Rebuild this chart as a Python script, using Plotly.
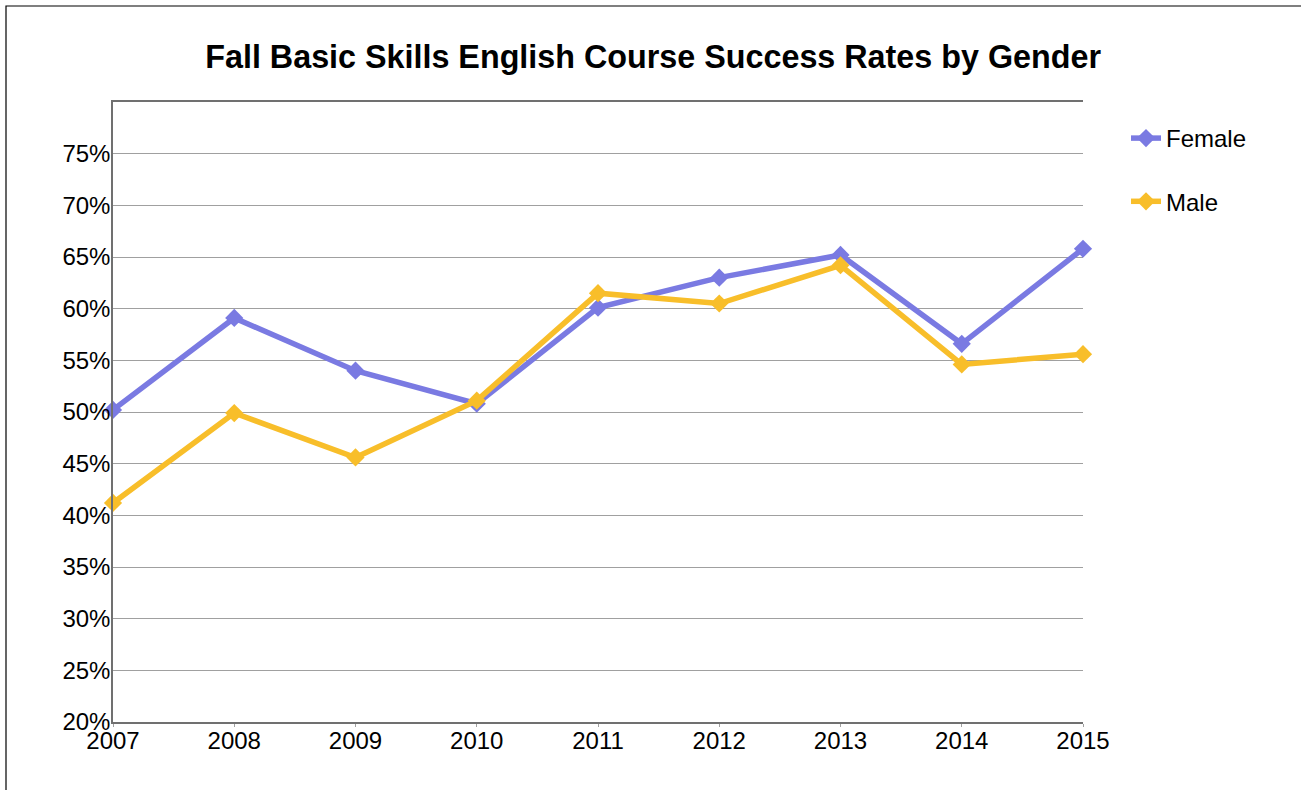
import plotly.graph_objects as go

years = [2007, 2008, 2009, 2010, 2011, 2012, 2013, 2014, 2015]
female = [50.2, 59.1, 54.0, 50.8, 60.1, 63.0, 65.2, 56.6, 65.8]
male = [41.2, 49.9, 45.6, 51.1, 61.5, 60.5, 64.2, 54.6, 55.6]

y_ticks = list(range(20, 85, 5))
y_labels = [f"{v}%" for v in y_ticks[:-1]] + [""]

FEMALE_COLOR = "#7a7ae2"
MALE_COLOR = "#f8be2a"
FONT = "Liberation Sans, Arial, sans-serif"

fig = go.Figure()
for name, vals, color, grp in [("Female", female, FEMALE_COLOR, "f"),
                               ("Male", male, MALE_COLOR, "m")]:
    fig.add_trace(go.Scatter(
        x=years, y=vals, name=name, mode="lines+markers",
        line=dict(color=color, width=5.5),
        marker=dict(symbol="diamond", size=14, color=color),
        cliponaxis=False, legendgroup=grp,
    ))

# plot area in pixels: left 113, right 1083, top 102, bottom 722
L, R, T, B = 113, 1083, 102, 722
W, H = 1301, 790
pw, ph = R - L, B - T


def px_x(p):
    return (p - L) / pw


def px_y(p):
    return (B - p) / ph


fig.update_layout(
    width=W, height=H,
    margin=dict(l=L, r=W - R, t=T, b=H - B, pad=0),
    paper_bgcolor="white", plot_bgcolor="white",
    font=dict(family=FONT, size=24, color="black"),
    title=dict(text="<b>Fall Basic Skills English Course Success Rates by Gender</b>",
               x=0.502, xref="container", xanchor="center",
               y=1 - 57 / H, yref="container", yanchor="middle",
               font=dict(family=FONT, size=32.3, color="black")),
    showlegend=True,
    legend=dict(x=px_x(1126), y=px_y(116), xanchor="left", yanchor="top",
                bgcolor="rgba(0,0,0,0)", font=dict(size=24),
                tracegroupgap=29, itemwidth=30),
    xaxis=dict(range=[2007, 2015], tickvals=years, ticktext=[str(y) for y in years],
               showgrid=False, zeroline=False,
               showline=True, linecolor="#707070", linewidth=1.5, mirror=True,
               ticks="outside", ticklen=3, tickcolor="#a0a0a0",
               tickfont=dict(size=24), ticklabelstandoff=-7),
    yaxis=dict(range=[20, 80], tickvals=y_ticks, ticktext=y_labels,
               showgrid=True, gridcolor="#a0a0a0", gridwidth=1.2,
               zeroline=False, showline=True, linecolor="#707070", linewidth=1.5,
               ticks="", tickfont=dict(size=24), ticklabelstandoff=-4),
    shapes=[dict(type="rect", xref="paper", yref="paper",
                 x0=px_x(6), x1=px_x(1320), y0=px_y(6), y1=px_y(820),
                 line=dict(color="black", width=1.2), fillcolor="rgba(0,0,0,0)",
                 layer="below")],
)

fig.write_html("out.html")
